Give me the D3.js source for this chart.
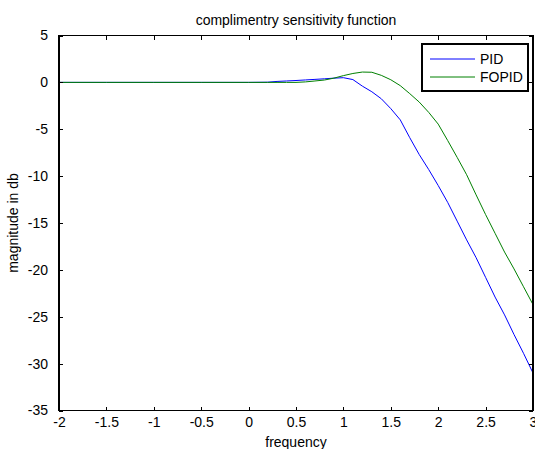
<!DOCTYPE html>
<html>
<head>
<meta charset="utf-8">
<script src="https://cdn.jsdelivr.net/npm/d3@7"></script>
<style>
  body { margin: 0; background: #fff; }
  svg { display: block; font-family: "Liberation Sans", Arial, sans-serif; }
</style>
</head>
<body>
<div class="canvas"></div>
<script>
// data (x is log10 of frequency)
const freq = [-2, -1.5, -1, -0.5, 0, 0.2, 0.3, 0.4, 0.5, 0.6, 0.7, 0.8, 0.9, 1.0,
  1.1, 1.2, 1.3, 1.4, 1.5, 1.6, 1.7, 1.8, 1.9, 2.0, 2.1, 2.2, 2.3, 2.4, 2.5,
  2.6, 2.7, 2.8, 2.9, 3.0];
const pid = [0, 0, 0, 0, 0, 0.02, 0.1, 0.15, 0.2, 0.26, 0.32, 0.38, 0.45, 0.5,
  0.3, -0.4, -1.0, -1.75, -2.8, -4.0, -5.9, -7.7, -9.3, -11.0, -12.8, -14.8,
  -16.8, -18.7, -20.8, -22.9, -24.8, -26.9, -28.9, -31.0];
const fopid = [0, 0, 0, 0, 0, 0, 0, 0, 0, 0.05, 0.15, 0.25, 0.45, 0.72,
  0.95, 1.1, 1.08, 0.75, 0.28, -0.35, -1.2, -2.1, -3.2, -4.45, -6.2, -8.0,
  -9.85, -12.0, -14.1, -16.1, -18.1, -19.9, -21.8, -23.7];
const xTicks = [-2, -1.5, -1, -0.5, 0, 0.5, 1, 1.5, 2, 2.5, 3];
const yTicks = [5, 0, -5, -10, -15, -20, -25, -30, -35];
const seriesNames = ["PID", "FOPID"];
const seriesColors = ["#0000ff", "#008000"];

const dims = { width: 535, height: 449 };
const plot = { left: 59, right: 533, top: 35.5, bottom: 410.5 };
const fontSize = 14;

const svg = d3
    .select(".canvas")
    .append("svg")
    .attr("width", dims.width)
    .attr("height", dims.height);

const x = d3.scaleLinear().domain([-2, 3]).range([plot.left, plot.right]);
const y = d3.scaleLinear().domain([-35, 5]).range([plot.bottom, plot.top]);

// curves
const line = d3
    .line()
    .x((d) => x(d[0]))
    .y((d) => y(d[1]));

const series = [pid, fopid];
svg
    .append("g")
    .selectAll("path")
    .data(series)
    .enter()
    .append("path")
    .attr("d", (vals) => line(freq.map((f, i) => [f, vals[i]])))
    .attr("fill", "none")
    .attr("stroke", (d, i) => seriesColors[i])
    .attr("stroke-width", 1);

// axes, ticks pointing inward on all four sides (matlab style)
const tickLen = 4;
const fmt = (d) => String(d);
const axisBottom = d3.axisBottom(x).tickValues(xTicks).tickSizeInner(-tickLen).tickSizeOuter(0).tickPadding(7).tickFormat(fmt);
const axisTop = d3.axisTop(x).tickValues(xTicks).tickSizeInner(-tickLen).tickSizeOuter(0).tickFormat("");
const axisLeft = d3.axisLeft(y).tickValues(yTicks).tickSizeInner(-tickLen).tickSizeOuter(0).tickPadding(11).tickFormat(fmt);
const axisRight = d3.axisRight(y).tickValues(yTicks).tickSizeInner(-tickLen).tickSizeOuter(0).tickFormat("");

svg.append("g").attr("transform", `translate(0,${plot.bottom})`).call(axisBottom);
svg.append("g").attr("transform", `translate(0,${plot.top})`).call(axisTop);
svg.append("g").attr("transform", `translate(${plot.left},0)`).call(axisLeft);
svg.append("g").attr("transform", `translate(${plot.right},0)`).call(axisRight);

svg.selectAll(".domain").remove();
svg.selectAll(".tick line").attr("stroke", "#000").attr("shape-rendering", "crispEdges");
svg.selectAll(".tick text")
    .attr("fill", "#000")
    .attr("font-size", fontSize)
    .attr("font-family", "Liberation Sans, Arial, sans-serif");

// box
svg
    .append("rect")
    .attr("x", plot.left)
    .attr("y", plot.top)
    .attr("width", plot.right - plot.left)
    .attr("height", plot.bottom - plot.top)
    .attr("fill", "none")
    .attr("stroke", "#000")
    .attr("stroke-width", 1.3)
    .attr("shape-rendering", "crispEdges");

// title and labels
svg
    .append("text")
    .attr("x", (plot.left + plot.right) / 2)
    .attr("y", 25)
    .attr("text-anchor", "middle")
    .attr("font-size", fontSize)
    .text("complimentry sensitivity function");

svg
    .append("text")
    .attr("x", (plot.left + plot.right) / 2)
    .attr("y", 447)
    .attr("text-anchor", "middle")
    .attr("font-size", fontSize)
    .text("frequency");

svg
    .append("text")
    .attr("transform", `translate(18,${(plot.top + plot.bottom) / 2}) rotate(-90)`)
    .attr("text-anchor", "middle")
    .attr("font-size", fontSize)
    .text("magnitude in db");

// legend
const legendGroup = svg.append("g").attr("transform", "translate(422,44)");
legendGroup
    .append("rect")
    .attr("width", 106)
    .attr("height", 47)
    .attr("fill", "#fff")
    .attr("stroke", "#000")
    .attr("stroke-width", 1.3)
    .attr("shape-rendering", "crispEdges");

const items = legendGroup
    .selectAll("g.item")
    .data(seriesNames)
    .enter()
    .append("g")
    .attr("class", "item")
    .attr("transform", (d, i) => `translate(0,${15 + i * 18})`);

items
    .append("line")
    .attr("x1", 8)
    .attr("x2", 53)
    .attr("stroke", (d, i) => seriesColors[i])
    .attr("stroke-width", 1);

items
    .append("text")
    .attr("x", 58)
    .attr("dy", "0.35em")
    .attr("font-size", fontSize)
    .text((d) => d);
</script>
</body>
</html>
